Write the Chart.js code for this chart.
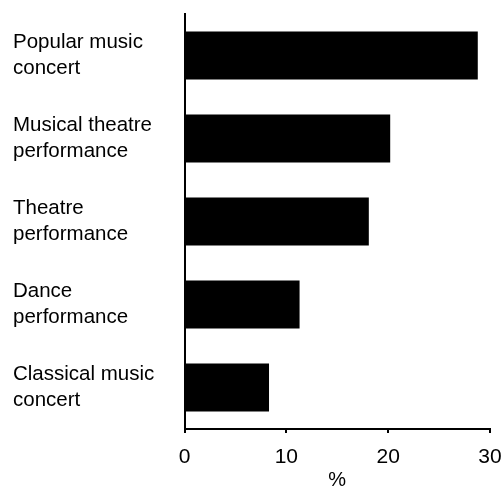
<!DOCTYPE html>
<html>
<head>
  <meta charset="UTF-8">
  <title>Attendance by event type</title>
  <script src="https://cdn.jsdelivr.net/npm/chart.js"></script>
  <style>
    html, body { margin: 0; padding: 0; background: #fff; }
    .wrap { position: relative; width: 501px; height: 487px; }
  </style>
</head>
<body>
  <div class="wrap">
    <canvas id="chart"></canvas>
  </div>

  <script>
    // Data
    const categories = [
      ['Popular music', 'concert'],
      ['Musical theatre', 'performance'],
      ['Theatre', 'performance'],
      ['Dance', 'performance'],
      ['Classical music', 'concert']
    ];
    const percentValues = [28.8, 20.2, 18.1, 11.3, 8.3];
    const xTicks = [0, 10, 20, 30];

    const fontFamily = '"Liberation Sans", Arial, Helvetica, sans-serif';

    new Chart(document.getElementById('chart').getContext('2d'), {
      type: 'bar',
      data: {
        labels: categories,
        datasets: [{
          data: percentValues,
          backgroundColor: '#000',
          borderWidth: 0,
          barPercentage: 0.58,
          categoryPercentage: 1
        }]
      },
      options: {
        indexAxis: 'y',
        responsive: true,
        maintainAspectRatio: false,
        animation: false,
        layout: { padding: { top: 14, left: 13, right: 11, bottom: 0 } },
        plugins: {
          legend: { display: false },
          tooltip: { enabled: false }
        },
        scales: {
          x: {
            min: xTicks[0],
            max: xTicks[xTicks.length - 1],
            afterBuildTicks: (scale) => { scale.ticks = xTicks.map(v => ({ value: v })); },
            afterFit: (scale) => {
              scale.height = 58;
              scale.paddingLeft = 0;
              scale.paddingRight = 0;
            },
            grid: {
              drawOnChartArea: false,
              drawTicks: true,
              tickLength: 4,
              color: '#000',
              lineWidth: 2
            },
            border: { display: true, color: '#000', width: 2 },
            ticks: {
              color: '#000',
              padding: 12,
              maxRotation: 0,
              font: { family: fontFamily, size: 21 }
            },
            title: {
              display: true,
              text: '%',
              color: '#000',
              padding: { top: 0, bottom: -5 },
              font: { family: fontFamily, size: 20 }
            }
          },
          y: {
            // labels sit flush left; don't let the multi-line labels push the plot down
            afterFit: (scale) => {
              scale.width = 171.5;
              scale.paddingTop = 0;
              scale.paddingBottom = 0;
            },
            grid: { display: false, drawTicks: false },
            border: { display: true, color: '#000', width: 2 },
            ticks: {
              color: '#000',
              crossAlign: 'far',
              padding: 0,
              font: { family: fontFamily, size: 20.5, lineHeight: 1.3 }
            }
          }
        }
      }
    });
  </script>
</body>
</html>
